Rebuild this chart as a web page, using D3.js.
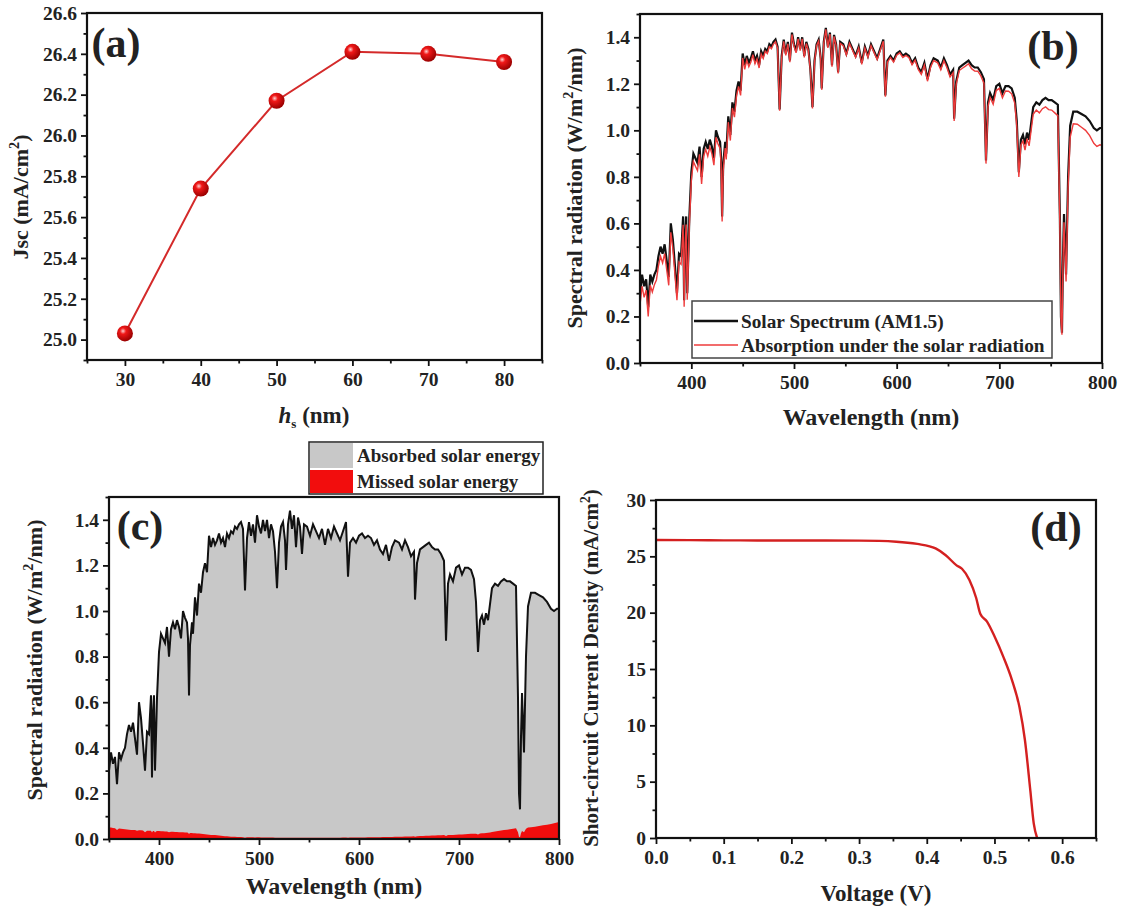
<!DOCTYPE html>
<html>
<head>
<meta charset="utf-8">
<script src="https://cdn.jsdelivr.net/npm/d3@7"></script>
<style>
  body { margin: 0; background: #fff; }
  svg text { font-family: "Liberation Serif", "Times New Roman", serif; font-weight: bold; fill: #222; }
</style>
</head>
<body>
<svg id="fig" width="1123" height="907"></svg>
<script>
// ---- data ----

// (a) Jsc vs hs
const hsNm = [30, 40, 50, 60, 70, 80];
const jscValues = [25.03, 25.74, 26.17, 26.41, 26.40, 26.36];
const aXTicks = [30, 40, 50, 60, 70, 80];
const aYTicks = [25.0, 25.2, 25.4, 25.6, 25.8, 26.0, 26.2, 26.4, 26.6];

// (b),(c) AM1.5 spectrum and the part the cell misses
const wavelengthNm = [
  350,352,354,356,358,360,362,364,366,368,
  370,372,374,376,378,380,382,384,386,388,
  390,392,393,394,395,396,397,398,400,402,
  404,406,408,410,412,414,416,418,420,422,
  424,426,428,429,430,431,433,434,436,438,
  440,442,444,446,448,450,452,454,456,458,
  460,462,464,466,468,470,472,474,476,478,
  480,482,484,486,488,490,492,494,496,498,
  500,502,504,506,508,510,512,514,516,518,
  520,522,524,526,527,529,531,533,535,537,
  539,541,543,545,548,551,554,557,560,563,
  566,569,572,575,578,581,584,587,589,591,
  594,597,600,603,606,609,612,615,618,621,
  624,627,630,633,636,640,643,646,649,652,
  655,656,658,661,664,667,670,673,676,679,
  682,685,687,689,691,694,697,700,703,706,
  709,712,715,717,719,721,723,725,727,729,
  731,733,736,739,742,745,748,751,754,757,
  759,760,761,762,763,765,767,769,772,776,
  780,784,788,792,795,798,800
];
const solarAM15 = [
  0.30,0.38,0.33,0.36,0.24,0.38,0.35,0.38,0.40,0.46,
  0.50,0.47,0.51,0.44,0.37,0.60,0.53,0.42,0.30,0.47,
  0.46,0.63,0.27,0.55,0.63,0.30,0.45,0.62,0.82,0.90,
  0.88,0.86,0.93,0.80,0.92,0.95,0.92,0.96,0.93,0.88,
  1.00,0.97,0.95,0.88,0.63,0.85,0.95,0.90,1.06,0.98,
  1.12,1.08,1.17,1.21,1.17,1.33,1.28,1.32,1.29,1.31,
  1.34,1.30,1.32,1.28,1.34,1.32,1.35,1.34,1.37,1.36,
  1.38,1.39,1.36,1.09,1.32,1.39,1.33,1.38,1.30,1.42,
  1.37,1.34,1.40,1.35,1.40,1.32,1.38,1.35,1.26,1.10,
  1.30,1.37,1.39,1.31,1.18,1.38,1.44,1.36,1.42,1.28,
  1.41,1.37,1.25,1.38,1.37,1.33,1.38,1.35,1.32,1.36,
  1.29,1.36,1.32,1.37,1.34,1.31,1.35,1.39,1.15,1.30,
  1.32,1.30,1.33,1.34,1.32,1.33,1.32,1.29,1.31,1.27,
  1.25,1.29,1.22,1.28,1.31,1.30,1.27,1.31,1.28,1.24,
  1.26,1.05,1.21,1.27,1.28,1.29,1.30,1.28,1.27,1.27,
  1.25,1.22,0.87,1.12,1.16,1.13,1.19,1.20,1.16,1.19,
  1.19,1.18,1.14,1.04,0.82,0.96,0.98,0.94,0.99,0.96,
  1.03,1.10,1.12,1.11,1.13,1.14,1.13,1.13,1.12,1.11,
  0.62,0.20,0.13,0.45,0.64,0.38,0.80,1.02,1.08,1.08,
  1.07,1.06,1.04,1.01,1.00,1.01,1.01
];
const missedSolar = [
  0.050,0.050,0.048,0.047,0.040,0.046,0.045,0.044,0.043,0.042,
  0.041,0.040,0.040,0.039,0.036,0.038,0.038,0.037,0.030,0.036,
  0.036,0.036,0.028,0.035,0.035,0.028,0.033,0.035,0.035,0.034,
  0.034,0.033,0.033,0.030,0.032,0.032,0.031,0.031,0.030,0.030,
  0.030,0.029,0.028,0.027,0.022,0.026,0.026,0.025,0.025,0.024,
  0.024,0.023,0.022,0.021,0.020,0.019,0.018,0.018,0.017,0.016,
  0.015,0.014,0.013,0.012,0.012,0.011,0.010,0.010,0.010,0.009,
  0.009,0.009,0.008,0.006,0.008,0.008,0.008,0.008,0.007,0.008,
  0.008,0.007,0.007,0.007,0.007,0.007,0.007,0.007,0.006,0.006,
  0.006,0.006,0.006,0.006,0.006,0.006,0.006,0.006,0.006,0.006,
  0.006,0.006,0.006,0.006,0.006,0.006,0.006,0.006,0.006,0.006,
  0.006,0.006,0.006,0.006,0.006,0.006,0.007,0.007,0.006,0.007,
  0.007,0.007,0.007,0.007,0.007,0.008,0.008,0.008,0.008,0.008,
  0.009,0.009,0.009,0.009,0.010,0.010,0.010,0.011,0.011,0.011,
  0.012,0.010,0.012,0.013,0.013,0.014,0.014,0.015,0.015,0.016,
  0.016,0.017,0.013,0.017,0.018,0.018,0.019,0.020,0.020,0.021,
  0.022,0.023,0.023,0.023,0.020,0.024,0.025,0.025,0.026,0.027,
  0.029,0.031,0.033,0.035,0.037,0.039,0.041,0.043,0.045,0.047,
  0.030,0.010,0.008,0.025,0.035,0.030,0.045,0.050,0.052,0.054,
  0.057,0.060,0.063,0.066,0.069,0.072,0.075
];
const specXTicks = [400, 500, 600, 700, 800];
const specYTicks = [0.0, 0.2, 0.4, 0.6, 0.8, 1.0, 1.2, 1.4];

// (d) J-V curve
const voltageV = [0, 0.05, 0.10, 0.15, 0.20, 0.25, 0.30, 0.355, 0.386, 0.413, 0.428, 0.444, 0.452,
  0.463, 0.473, 0.479, 0.489, 0.500, 0.513, 0.526, 0.537, 0.545, 0.553, 0.558, 0.563];
const currentDensity = [26.45, 26.44, 26.42, 26.41, 26.40, 26.40, 26.39, 26.30, 26.10, 25.70, 25.10, 24.20, 23.90,
  22.90, 21.30, 19.90, 19.20, 17.90, 16.10, 14.00, 11.60, 8.70, 4.20, 1.30, 0];
const dXTicks = [0.0, 0.1, 0.2, 0.3, 0.4, 0.5, 0.6];
const dYTicks = [0, 5, 10, 15, 20, 25, 30];

const svg = d3.select("#fig");

function minorBetween(ticks, lo, hi)
{
  // midpoints of major ticks plus one step outside, clipped to the domain
  let step = ticks[1] - ticks[0];
  let out = [];
  for (let i = -1; i < ticks.length; i++)
  {
    let v = ticks[0] + step * (i + 0.5);
    if (v >= lo - 1e-9 && v <= hi + 1e-9) out.push(+v.toFixed(4));
  }
  return out;
}

function makePanel(cfg)
{
  let x = d3.scaleLinear().domain(cfg.xDomain).range([cfg.left, cfg.right]);
  let y = d3.scaleLinear().domain(cfg.yDomain).range([cfg.bottom, cfg.top]);
  let g = svg.append("g");

  let plot = g.append("g");

  // minor ticks
  g.append("g").attr("transform", `translate(0,${cfg.bottom})`)
    .call(d3.axisBottom(x).tickValues(minorBetween(cfg.xTicks, cfg.xDomain[0], cfg.xDomain[1])).tickSize(3.5).tickFormat(""))
    .attr("class", "ax");
  g.append("g").attr("transform", `translate(${cfg.left},0)`)
    .call(d3.axisLeft(y).tickValues(minorBetween(cfg.yTicks, cfg.yDomain[0], cfg.yDomain[1])).tickSize(3.5).tickFormat(""))
    .attr("class", "ax");
  // major ticks
  g.append("g").attr("transform", `translate(0,${cfg.bottom})`)
    .call(d3.axisBottom(x).tickValues(cfg.xTicks).tickSize(6).tickPadding(6).tickFormat(d3.format(cfg.xFormat)))
    .attr("class", "ax");
  g.append("g").attr("transform", `translate(${cfg.left},0)`)
    .call(d3.axisLeft(y).tickValues(cfg.yTicks).tickSize(6).tickPadding(4).tickFormat(d3.format(cfg.yFormat)))
    .attr("class", "ax");

  g.selectAll(".ax .domain").remove();
  g.selectAll(".ax line").attr("stroke", "#111").attr("stroke-width", 1.8);
  g.selectAll(".ax text").attr("font-size", 19.5).attr("font-family", null).attr("fill", "#222");
  g.selectAll(".ax").attr("font-family", null).attr("font-size", null);

  g.append("rect")
    .attr("x", cfg.left).attr("y", cfg.top)
    .attr("width", cfg.right - cfg.left).attr("height", cfg.bottom - cfg.top)
    .attr("fill", "none").attr("stroke", "#111").attr("stroke-width", 2.2);

  g.append("text").attr("x", cfg.tag[1]).attr("y", cfg.tag[2])
    .attr("text-anchor", "middle").attr("font-size", 42).attr("fill", "#000").text(cfg.tag[0]);

  return { x, y, g, plot };
}

function yTitle(g, cx, cy, size, parts)
{
  let t = g.append("text").attr("transform", `translate(${cx},${cy}) rotate(-90)`)
    .attr("text-anchor", "middle").attr("font-size", size);
  parts.forEach(p => {
    let s = t.append("tspan").text(p.t);
    if (p.sup) s.attr("dy", -size * 0.4).attr("font-size", size * 0.65);
    if (p.back) s.attr("dy", size * 0.4);
  });
  return t;
}

// ---------- panel (a) ----------
let A = makePanel({
  left: 87, right: 542, top: 13, bottom: 360,
  xDomain: [25, 85], yDomain: [24.9, 26.6],
  xTicks: aXTicks, yTicks: aYTicks, xFormat: "d", yFormat: ".1f",
  tag: ["(a)", 116, 57]
});

let defs = svg.append("defs");
let grad = defs.append("radialGradient").attr("id", "ball").attr("cx", "38%").attr("cy", "35%").attr("r", "65%");
grad.append("stop").attr("offset", "0%").attr("stop-color", "#ffd0d0");
grad.append("stop").attr("offset", "30%").attr("stop-color", "#f01818");
grad.append("stop").attr("offset", "100%").attr("stop-color", "#9a0000");

let aPts = hsNm.map((h, i) => [h, jscValues[i]]);
A.plot.append("path").datum(aPts)
  .attr("d", d3.line().x(d => A.x(d[0])).y(d => A.y(d[1])))
  .attr("fill", "none").attr("stroke", "#d42a2a").attr("stroke-width", 2);
A.plot.selectAll("circle").data(aPts).enter().append("circle")
  .attr("cx", d => A.x(d[0])).attr("cy", d => A.y(d[1])).attr("r", 8)
  .attr("fill", "url(#ball)");

yTitle(A.g, 28, 197, 22, [{ t: "Jsc (mA/cm" }, { t: "2", sup: true }, { t: ")", back: true }]);
let ax = A.g.append("text").attr("x", 314).attr("y", 423).attr("text-anchor", "middle").attr("font-size", 23);
ax.append("tspan").attr("font-style", "italic").text("h");
ax.append("tspan").attr("font-size", 13).attr("dy", 5).text("s");
ax.append("tspan").attr("dy", -5).text(" (nm)");

// ---------- panel (b) ----------
let B = makePanel({
  left: 640, right: 1102, top: 14, bottom: 363,
  xDomain: [350, 800], yDomain: [0, 1.5],
  xTicks: specXTicks, yTicks: specYTicks, xFormat: "d", yFormat: ".1f",
  tag: ["(b)", 1053, 60]
});
let spec = wavelengthNm.map((w, i) => ({ w, s: solarAM15[i], m: missedSolar[i] }));

B.plot.append("path").datum(spec)
  .attr("d", d3.line().x(d => B.x(d.w)).y(d => B.y(d.s)))
  .attr("fill", "none").attr("stroke", "#111").attr("stroke-width", 2.2);
B.plot.append("path").datum(spec)
  .attr("d", d3.line().x(d => B.x(d.w)).y(d => B.y(d.s - d.m)))
  .attr("fill", "none").attr("stroke", "#ee3b3b").attr("stroke-width", 1.4);

let legB = B.g.append("g");
legB.append("rect").attr("x", 692).attr("y", 301).attr("width", 360).attr("height", 57)
  .attr("fill", "#fff").attr("stroke", "#444").attr("stroke-width", 1.5);
legB.append("line").attr("x1", 694).attr("x2", 738).attr("y1", 321).attr("y2", 321)
  .attr("stroke", "#111").attr("stroke-width", 2.5);
legB.append("line").attr("x1", 694).attr("x2", 738).attr("y1", 345).attr("y2", 345)
  .attr("stroke", "#ee3b3b").attr("stroke-width", 1.3);
legB.append("text").attr("x", 741).attr("y", 328).attr("font-size", 19.3).text("Solar Spectrum (AM1.5)");
legB.append("text").attr("x", 741).attr("y", 352).attr("font-size", 19.3).text("Absorption under the solar radiation");

yTitle(B.g, 582, 188, 22, [{ t: "Spectral radiation (W/m" }, { t: "2", sup: true }, { t: "/nm)", back: true }]);
B.g.append("text").attr("x", 871).attr("y", 425).attr("text-anchor", "middle").attr("font-size", 24).text("Wavelength (nm)");

// ---------- panel (c) ----------
let C = makePanel({
  left: 109, right: 559, top: 497, bottom: 839,
  xDomain: [350, 800], yDomain: [0, 1.5],
  xTicks: specXTicks, yTicks: specYTicks, xFormat: "d", yFormat: ".1f",
  tag: ["(c)", 140, 540]
});
C.plot.append("path").datum(spec)
  .attr("d", d3.area().x(d => C.x(d.w)).y0(C.y(0)).y1(d => C.y(d.s)))
  .attr("fill", "#c8c8c8");
C.plot.append("path").datum(spec)
  .attr("d", d3.area().x(d => C.x(d.w)).y0(C.y(0)).y1(d => C.y(d.m)))
  .attr("fill", "#f20d0d");
C.plot.append("path").datum(spec)
  .attr("d", d3.line().x(d => C.x(d.w)).y(d => C.y(d.s)))
  .attr("fill", "none").attr("stroke", "#111").attr("stroke-width", 2);
C.g.selectAll("rect").raise();
C.g.selectAll(".ax").raise();

let legC = C.g.append("g");
legC.append("rect").attr("x", 309).attr("y", 442).attr("width", 234).attr("height", 52)
  .attr("fill", "#fff").attr("stroke", "#222").attr("stroke-width", 1.5);
legC.append("rect").attr("x", 310).attr("y", 443).attr("width", 43).attr("height", 25).attr("fill", "#c8c8c8");
legC.append("rect").attr("x", 310).attr("y", 470).attr("width", 43).attr("height", 23).attr("fill", "#f20d0d");
legC.append("text").attr("x", 357).attr("y", 462).attr("font-size", 19).text("Absorbed solar energy");
legC.append("text").attr("x", 357).attr("y", 488).attr("font-size", 19).text("Missed solar energy");

yTitle(C.g, 42, 660, 22, [{ t: "Spectral radiation (W/m" }, { t: "2", sup: true }, { t: "/nm)", back: true }]);
C.g.append("text").attr("x", 334).attr("y", 894).attr("text-anchor", "middle").attr("font-size", 24).text("Wavelength (nm)");

// ---------- panel (d) ----------
let D = makePanel({
  left: 656, right: 1096, top: 500, bottom: 838,
  xDomain: [0, 0.65], yDomain: [0, 30],
  xTicks: dXTicks, yTicks: dYTicks, xFormat: ".1f", yFormat: "d",
  tag: ["(d)", 1056, 541]
});
let jv = voltageV.map((v, i) => [v, currentDensity[i]]);
D.plot.append("path").datum(jv)
  .attr("d", d3.line().curve(d3.curveMonotoneX).x(d => D.x(d[0])).y(d => D.y(d[1])))
  .attr("fill", "none").attr("stroke", "#d42020").attr("stroke-width", 2.4);

yTitle(D.g, 598, 668, 21, [{ t: "Short-circuit Current Density (mA/cm" }, { t: "2", sup: true }, { t: ")", back: true }]);
D.g.append("text").attr("x", 876).attr("y", 901).attr("text-anchor", "middle").attr("font-size", 23).text("Voltage (V)");
</script>
</body>
</html>
